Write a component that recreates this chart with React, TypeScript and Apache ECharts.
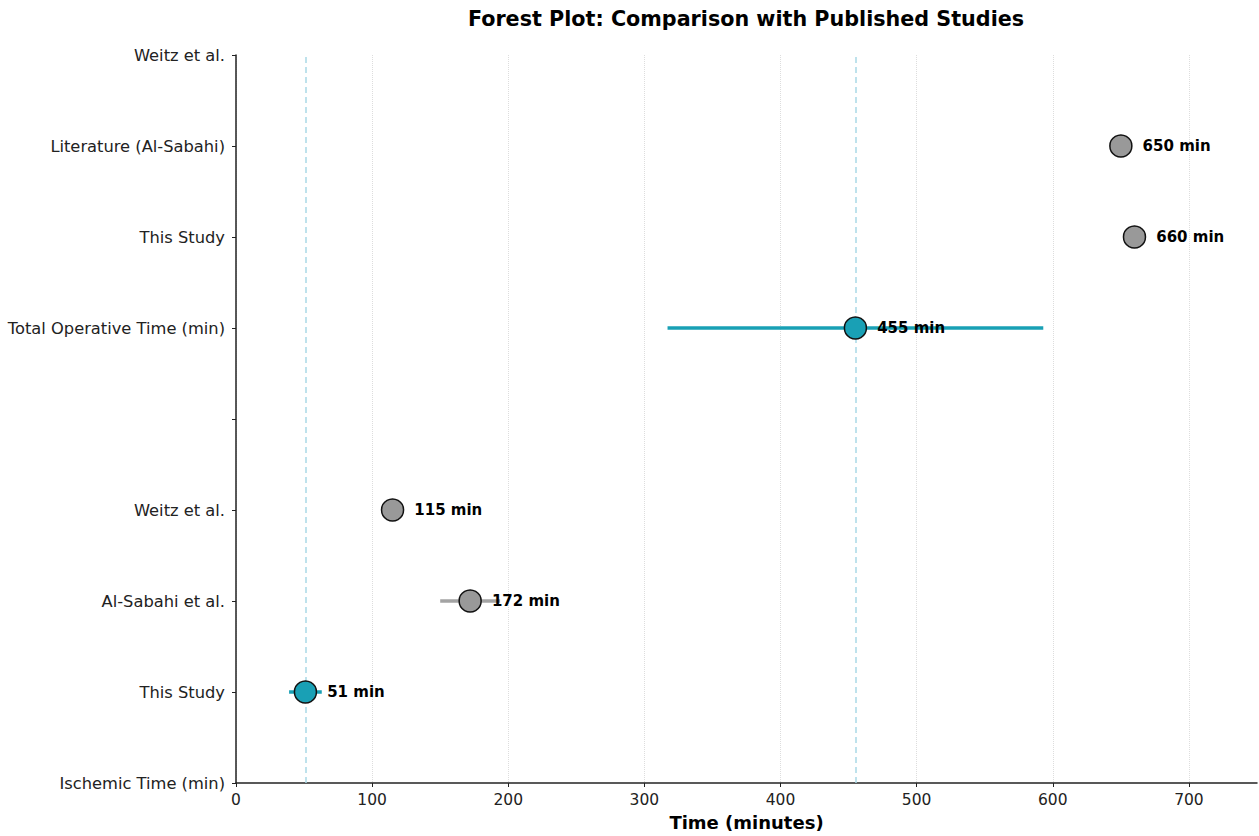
import React, { useEffect, useRef } from "react";
import * as echarts from "echarts";

const yLabels = [
  "Ischemic Time (min)",
  "This Study",
  "Al-Sabahi et al.",
  "Weitz et al.",
  "",
  "Total Operative Time (min)",
  "This Study",
  "Literature (Al-Sabahi)",
  "Weitz et al.",
];

// [value, rowIndex]
const highlightPoints: [number, number][] = [
  [51, 1],
  [455, 5],
];
const literaturePoints: [number, number][] = [
  [172, 2],
  [115, 3],
  [660, 6],
  [650, 7],
];
// [low, high, rowIndex]
const highlightBars: [number, number, number][] = [
  [39, 63, 1],
  [317, 593, 5],
];
const literatureBars: [number, number, number][] = [[150, 194, 2]];
const referenceLines = [51, 455];
const xTicks = [0, 100, 200, 300, 400, 500, 600, 700];

const TEAL = "#19a0b5";
const GRAY = "#999999";
const FONT = "DejaVu Sans";

function barSeries(data: [number, number, number][], color: string) {
  return {
    type: "custom",
    z: 2,
    data,
    encode: { x: [0, 1], y: 2 },
    renderItem: (_params: any, api: any) => {
      const p1 = api.coord([api.value(0), api.value(2)]);
      const p2 = api.coord([api.value(1), api.value(2)]);
      return {
        type: "line",
        shape: { x1: p1[0], y1: p1[1], x2: p2[0], y2: p2[1] },
        style: { stroke: color, lineWidth: 3.5, opacity: color === GRAY ? 0.9 : 1 },
      };
    },
  };
}

function pointSeries(data: [number, number][], color: string) {
  return {
    type: "scatter",
    z: 3,
    data,
    symbolSize: 22,
    itemStyle: { color, borderColor: "#111", borderWidth: 1.5, opacity: 1 },
    label: {
      show: true,
      position: "right",
      distance: 10,
      formatter: (p: any) => `${p.value[0]} min`,
      fontFamily: FONT,
      fontWeight: "bold",
      fontSize: 15,
      color: "#000",
    },
  };
}

export default function App() {
  const ref = useRef<HTMLDivElement>(null);
  useEffect(() => {
    if (!ref.current) return;
    const chart = echarts.init(ref.current, null, { renderer: "svg" });
    chart.setOption({
      animation: false,
      backgroundColor: "#fff",
      textStyle: { fontFamily: FONT },
      grid: { left: 236, right: 2, top: 55, bottom: 52, containLabel: false },
      graphic: [
        {
          type: "text",
          x: 746,
          y: 19,
          style: {
            text: "Forest Plot: Comparison with Published Studies",
            fontFamily: FONT,
            fontWeight: "bold",
            fontSize: 20.7,
            fill: "#000",
            textAlign: "center",
            textVerticalAlign: "middle",
          },
        },
      ],
      xAxis: {
        type: "value",
        min: 0,
        max: 750,
        interval: 100,
        name: "Time (minutes)",
        nameLocation: "middle",
        nameGap: 30,
        nameTextStyle: { fontFamily: FONT, fontWeight: "bold", fontSize: 18, color: "#000" },
        axisLine: { show: true, lineStyle: { color: "#222", width: 1.5 } },
        axisTick: { show: true, inside: false, length: 4, lineStyle: { color: "#222" }, customValues: xTicks },
        axisLabel: { fontFamily: FONT, fontSize: 15.5, color: "#222", margin: 9, customValues: xTicks },
        splitLine: { show: true, lineStyle: { color: "#dddddd", type: "dotted", width: 1 } },
      },
      yAxis: {
        type: "value",
        min: 0,
        max: 8,
        interval: 1,
        axisLine: { show: true, lineStyle: { color: "#222", width: 1.5 } },
        axisTick: { show: true, inside: false, length: 4, lineStyle: { color: "#222" } },
        axisLabel: {
          fontFamily: FONT,
          fontSize: 16.3,
          color: "#222",
          margin: 11,
          formatter: (v: number) => yLabels[Math.round(v)] ?? "",
        },
        splitLine: { show: false },
      },
      series: [
        {
          type: "scatter",
          data: [],
          z: 0,
          markLine: {
            silent: true,
            z: 1,
            symbol: "none",
            label: { show: false },
            lineStyle: { color: "#a8d8e6", type: [6, 4], width: 2, opacity: 0.75 },
            data: referenceLines.map((v) => ({ xAxis: v })),
          },
        },
        barSeries(highlightBars, TEAL),
        barSeries(literatureBars, GRAY),
        pointSeries(highlightPoints, TEAL),
        pointSeries(literaturePoints, GRAY),
      ],
    });
    return () => chart.dispose();
  }, []);
  return <div ref={ref} style={{ position: "fixed", left: 0, top: 0, width: 1259, height: 836 }} />;
}
